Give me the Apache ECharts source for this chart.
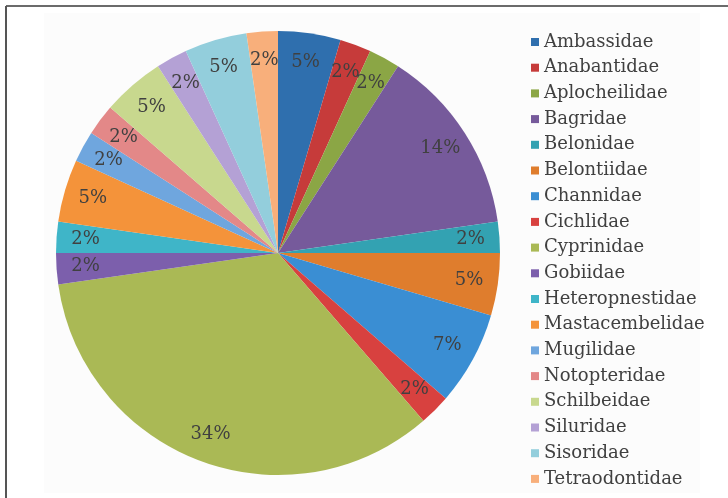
<!DOCTYPE html>
<html>
<head>
<meta charset="utf-8">
<script src="https://cdn.jsdelivr.net/npm/echarts@6/dist/echarts.min.js"></script>
<style>
html,body{margin:0;padding:0;background:#fff;}
#chart{width:728px;height:498px;}
</style>
</head>
<body>
<div id="chart"></div>
<script>
// Families (categories)
var families = ['Ambassidae','Anabantidae','Aplocheilidae','Bagridae','Belonidae','Belontiidae','Channidae','Cichlidae','Cyprinidae','Gobiidae','Heteropnestidae','Mastacembelidae','Mugilidae','Notopteridae','Schilbeidae','Siluridae','Sisoridae','Tetraodontidae'];
// Species counts per family (shown as rounded percentages)
var speciesCounts = [2,1,1,6,1,2,3,1,15,1,1,2,1,1,2,1,2,1];
// Slice colours
var sliceColors = ['#2f6fae','#c63b3a','#8ba645','#765a9b','#33a2b2','#df7d2d','#3a8ed3','#d8413f','#aab955','#7c5fac','#3fb5c8','#f4933a','#6fa6de','#e38888','#c8d88e','#b4a1d5','#93cedc','#f8af7b'];

var pieData = families.map(function(n,i){ return {name:n, value:speciesCounts[i]}; });
var total = speciesCounts.reduce(function(a,b){return a+b;},0);

var chart = echarts.init(document.getElementById('chart'));
chart.setOption({
  backgroundColor:'#ffffff',
  color: sliceColors,
  graphic:[
    {type:'rect', shape:{x:44,y:13,width:656,height:480}, style:{fill:'#fcfcfc'}, silent:true, z:-10},
    {type:'line', shape:{x1:6,y1:6,x2:728,y2:6}, style:{stroke:'#6b6b6b', lineWidth:2}, silent:true},
    {type:'line', shape:{x1:6,y1:6,x2:6,y2:498}, style:{stroke:'#555555', lineWidth:2}, silent:true}
  ],
  legend:{
    orient:'vertical',
    left:526, top:28, height:490,
    itemWidth:8, itemHeight:8, itemGap:7.7,
    icon:'rect',
    textStyle:{fontFamily:'DejaVu Serif', fontSize:18, color:'#404040'},
    data: families
  },
  series:[
    {
      type:'pie',
      center:[278,253],
      radius:[0,222],
      startAngle:90,
      clockwise:true,
      avoidLabelOverlap:false,
      label:{show:false},
      labelLine:{show:false},
      emphasis:{disabled:true},
      itemStyle:{borderWidth:0},
      data: pieData
    },
    {
      type:'pie',
      center:[278,253],
      radius:[158,222],
      startAngle:90,
      clockwise:true,
      silent:true,
      avoidLabelOverlap:false,
      labelLayout:{hideOverlap:false},
      itemStyle:{color:'rgba(0,0,0,0)', borderWidth:0},
      labelLine:{show:false},
      emphasis:{disabled:true},
      label:{
        show:true, position:'inside',
        fontFamily:'DejaVu Serif', fontSize:18, color:'#404040',
        formatter:function(p){ return Math.round(p.value/total*100)+'%'; }
      },
      data: pieData
    }
  ]
});
</script>
</body>
</html>
